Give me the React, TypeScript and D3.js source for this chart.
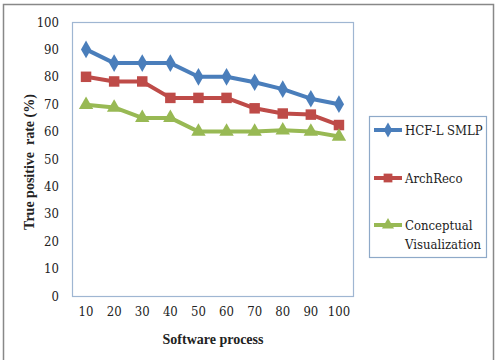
import React from "react";
import { scaleBand, scaleLinear, line, symbol, symbolDiamond, symbolSquare, symbolTriangle } from "d3";

const processes = ["10", "20", "30", "40", "50", "60", "70", "80", "90", "100"];
const hcfValues = [90, 85, 85, 85, 80, 80, 78, 75.5, 72, 70];
const archRecoValues = [80, 78.3, 78.3, 72.3, 72.3, 72.3, 68.5, 66.6, 66.2, 62.4];
const conceptualValues = [69.8, 68.8, 65, 65, 60, 60, 60, 60.5, 60, 58.2];
const yTicks = [0, 10, 20, 30, 40, 50, 60, 70, 80, 90, 100];

const series = [
  { name: ["HCF-L SMLP"], values: hcfValues, color: "#4A7EBB", shape: symbolDiamond, size: 90 },
  { name: ["ArchReco"], values: archRecoValues, color: "#BE4B48", shape: symbolSquare, size: 110 },
  { name: ["Conceptual", "Visualization"], values: conceptualValues, color: "#98B954", shape: symbolTriangle, size: 90 },
];

const serif = "'Liberation Serif', 'Times New Roman', Times, serif";
const serifThin = "'DejaVu Serif Condensed', 'DejaVu Serif', serif";

export default function App() {
  const plot = { left: 72, top: 22, right: 353, bottom: 296 };
  const x = scaleBand().domain(processes).range([plot.left, plot.right]);
  const y = scaleLinear().domain([0, 100]).range([plot.bottom, plot.top]);
  const path = line<number>()
    .x((_, i) => x(processes[i])! + x.bandwidth() / 2)
    .y((d) => y(d));

  const legendY = [130, 178, 225];

  return (
    <svg width={497} height={360} style={{ position: "absolute", left: 0, top: 0 }}>
      <rect x={0} y={0} width={497} height={360} fill="#fff" />
      {/* outer frame */}
      <rect x={3.5} y={4.5} width={490} height={362} fill="none" stroke="#888" strokeWidth={1.5} />
      {/* plot area */}
      <rect
        x={plot.left + 0.5}
        y={plot.top + 0.5}
        width={plot.right - plot.left}
        height={plot.bottom - plot.top}
        fill="none"
        stroke="#9FB6D2"
        strokeWidth={1.2}
      />

      {/* y ticks */}
      {yTicks.map((t) => (
        <text key={t} x={59} y={y(t)} dy="0.35em" textAnchor="end" fontSize={13} fontFamily={serifThin} fill="#222">
          {t}
        </text>
      ))}
      {/* x ticks */}
      {processes.map((p) => (
        <text
          key={p}
          x={x(p)! + x.bandwidth() / 2}
          y={316}
          textAnchor="middle"
          fontSize={13}
          fontFamily={serifThin}
          fill="#222"
        >
          {p}
        </text>
      ))}

      <text
        transform={`translate(34,${(plot.top + plot.bottom) / 2 + 3}) rotate(-90)`}
        textAnchor="middle"
        fontSize={14}
        fontWeight="bold"
        fontFamily={serif}
        fill="#222"
        style={{ whiteSpace: "pre" }}
      >
        True positive  rate (%)
      </text>
      <text x={213} y={344} textAnchor="middle" fontSize={14} fontWeight="bold" fontFamily={serif} fill="#222">
        Software process
      </text>

      {/* series */}
      {series.map((s) => (
        <g key={s.name[0]}>
          <path d={path(s.values)!} fill="none" stroke={s.color} strokeWidth={4} strokeLinejoin="round" />
          {s.values.map((v, i) => (
            <path
              key={i}
              d={symbol(s.shape, s.size)()!}
              transform={`translate(${x(processes[i])! + x.bandwidth() / 2},${y(v)})`}
              fill={s.color}
            />
          ))}
        </g>
      ))}

      {/* legend */}
      <rect x={369.5} y={116.5} width={117} height={141} fill="#fff" stroke="#8EA9C8" strokeWidth={1.2} />
      {series.map((s, i) => (
        <g key={s.name[0]}>
          <line x1={374} x2={402} y1={legendY[i]} y2={legendY[i]} stroke={s.color} strokeWidth={4} />
          <path d={symbol(s.shape, s.size * 0.7)()!} transform={`translate(388,${legendY[i]})`} fill={s.color} />
          {s.name.map((n, j) => (
            <text key={n} x={405} y={legendY[i] + j * 19} dy="0.35em" fontSize={13} fontFamily={serifThin} fill="#222">
              {n}
            </text>
          ))}
        </g>
      ))}
    </svg>
  );
}
